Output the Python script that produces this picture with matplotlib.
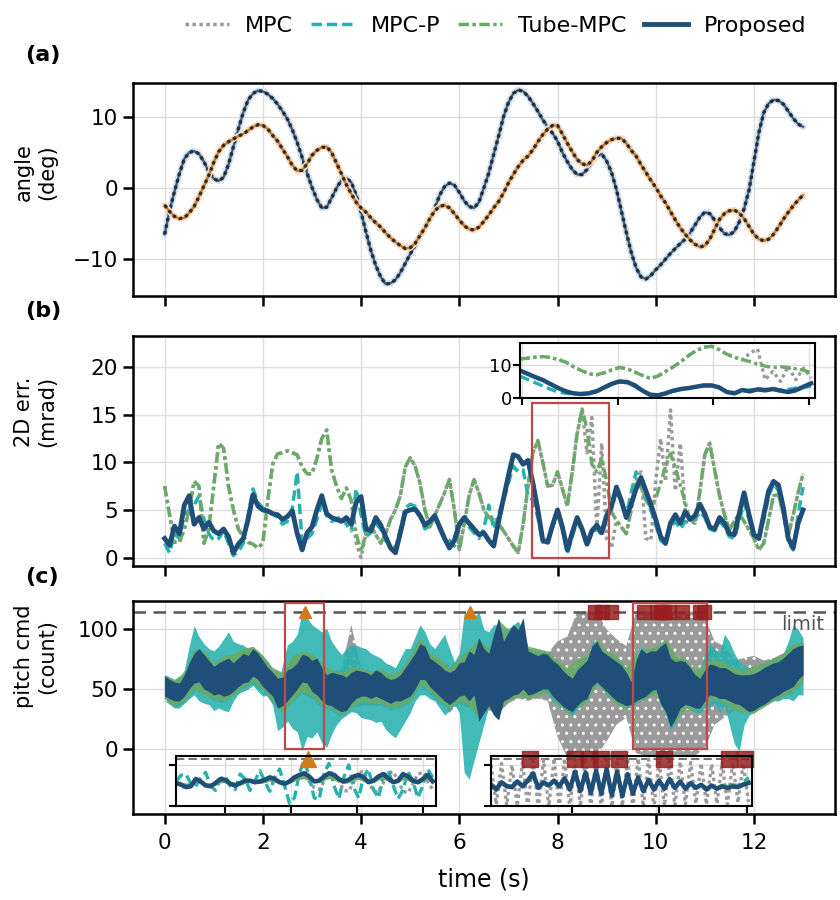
import numpy as np
import matplotlib
matplotlib.use('Agg')
import matplotlib.pyplot as plt
from matplotlib.patches import Rectangle
from matplotlib.lines import Line2D

# ---------------- data ----------------
# (a) tracked angles, sampled every 0.1 s from 0 to 13 s
angle_1 = [-6.5, -3.2, -0.5, 2.0, 4.1, 5.0, 5.2, 4.8, 3.7, 2.3,
           1.3, 1.0, 1.5, 3.3, 5.8, 8.3, 10.6, 12.4, 13.3, 13.7,
           13.6, 13.2, 12.6, 11.8, 10.8, 9.7, 8.2, 6.4, 4.3, 2.1,
           0.1, -1.6, -2.8, -2.7, -1.4, 0.0, 1.1, 1.4, 0.8, -1.0,
           -3.4, -6.2, -8.8, -10.9, -12.5, -13.5, -13.4, -12.9, -11.9, -10.6,
           -9.3, -8.1, -6.8, -5.5, -4.4, -2.9, -1.0, 0.2, 0.7, 0.4,
           -0.6, -1.8, -2.6, -2.8, -2.0, 0.0, 2.1, 4.7, 7.3, 10.0,
           12.0, 13.3, 13.8, 13.6, 12.9, 11.9, 10.8, 9.6, 8.6, 7.7,
           6.6, 5.0, 3.7, 2.6, 1.9, 1.9, 2.6, 3.7, 4.6, 4.8,
           3.8, 2.2, -0.2, -3.2, -6.2, -9.0, -11.2, -12.5, -12.8, -12.3,
           -11.5, -10.8, -10.0, -9.2, -8.5, -7.8, -7.2, -6.3, -5.2, -4.1,
           -3.4, -3.6, -4.5, -5.6, -6.4, -6.6, -6.1, -4.8, -2.9, -0.3,
           3.7, 7.8, 10.6, 11.9, 12.4, 12.3, 11.8, 10.8, 9.8, 9.0,
           8.6]
angle_2 = [-2.4, -3.3, -4.0, -4.3, -4.2, -3.5, -2.6, -1.2, 0.3, 1.8,
           3.6, 5.1, 6.0, 6.5, 6.9, 7.3, 7.6, 8.1, 8.6, 8.9,
           8.8, 8.3, 7.4, 6.6, 5.5, 4.4, 3.2, 2.4, 2.5, 3.4,
           4.6, 5.3, 5.7, 5.8, 5.0, 3.5, 2.0, 0.5, -0.8, -2.0,
           -2.8, -3.4, -4.2, -4.9, -5.5, -6.3, -7.0, -7.6, -8.1, -8.5,
           -8.4, -7.8, -6.7, -5.6, -4.3, -3.2, -2.6, -2.4, -2.8, -3.6,
           -4.5, -5.3, -5.8, -5.9, -5.5, -4.7, -3.8, -2.8, -1.9, -0.7,
           0.7, 1.9, 3.0, 3.9, 4.5, 5.4, 6.5, 7.5, 8.3, 8.8,
           8.8, 7.6, 6.3, 5.1, 4.0, 3.4, 3.2, 3.8, 5.0, 5.8,
           6.4, 6.8, 7.0, 7.0, 6.3, 5.3, 4.5, 3.3, 2.2, 1.1,
           0.1, -1.1, -2.1, -3.3, -4.5, -5.6, -6.5, -7.3, -7.9, -8.3,
           -8.1, -7.2, -5.8, -4.4, -3.6, -3.2, -3.1, -3.5, -4.3, -5.4,
           -6.5, -7.2, -7.4, -7.2, -6.5, -5.5, -4.4, -3.4, -2.5, -1.7,
           -1.0]

# (b) 2D error (mrad), every 0.1 s
err_mpc = [7.5, 4.5, 1.6, 1.6, 3.0, 5.0, 8.0, 7.5, 1.5, 3.0,
           7.5, 12.0, 11.5, 7.5, 5.0, 3.0, 2.2, 1.6, 1.4, 1.0,
           1.5, 6.0, 9.8, 10.9, 11.0, 11.2, 11.0, 10.8, 9.5, 8.8,
           8.8, 10.4, 12.5, 13.4, 9.2, 7.5, 6.2, 7.3, 6.0, 1.5,
           0.0, 2.5, 3.3, 2.4, 1.5, 2.5, 4.0, 5.0, 6.5, 9.5,
           10.5, 9.6, 7.8, 5.0, 3.2, 4.4, 5.6, 6.8, 8.2, 5.0,
           0.8, 3.5, 6.5, 8.2, 6.8, 5.0, 4.2, 4.0, 3.6, 2.8,
           2.0, 1.2, 0.5, 3.5, 7.5, 11.0, 12.3, 10.0, 7.5, 7.6,
           9.0, 7.2, 5.4, 9.0, 13.0, 15.6, 11.0, 14.7, 3.0, 12.0,
           2.0, 1.0, 3.9, 3.2, 2.5, 5.0, 8.1, 9.0, 2.0, 1.8,
           8.0, 12.5, 8.0, 15.5, 7.0, 12.0, 5.0, 4.0, 3.6, 7.0,
           10.8, 12.0, 9.2, 6.5, 4.5, 2.9, 3.8, 4.6, 3.8, 2.9,
           2.0, 0.8, 1.5, 4.0, 6.5, 6.6, 4.5, 2.3, 4.5, 6.8,
           8.8]
err_mpcp = [1.5, 0.5, 2.5, 2.0, 4.5, 5.0, 5.5, 6.5, 4.0, 2.5,
            1.8, 2.0, 2.8, 1.5, 0.2, 0.6, 1.5, 4.5, 7.2, 5.8,
            5.2, 5.0, 4.6, 4.2, 3.5, 3.8, 5.2, 9.0, 1.5, 2.0,
            2.5, 4.0, 5.8, 4.4, 3.8, 4.0, 4.4, 3.5, 2.8, 7.2,
            4.5, 2.2, 2.6, 3.6, 3.0, 1.8, 1.2, 1.0, 3.0, 5.2,
            5.6, 5.4, 4.4, 3.0, 3.4, 4.2, 3.0, 2.2, 1.8, 1.2,
            3.0, 4.0, 3.2, 2.6, 2.0, 3.0, 5.5, 3.0, 4.5, 6.0,
            7.8, 9.6, 9.0, 9.2, 6.5, 6.0, 4.2, 1.6, 1.8, 3.2,
            4.6, 3.0, 0.4, 2.2, 3.8, 2.8, 1.2, 2.6, 3.0, 2.4,
            4.0, 5.0, 7.0, 5.8, 4.4, 6.8, 9.0, 8.0, 6.2, 5.0,
            3.4, 1.8, 1.4, 3.2, 3.8, 3.0, 3.8, 3.6, 4.0, 4.8,
            4.2, 3.0, 2.8, 3.8, 3.2, 2.2, 2.0, 3.8, 5.8, 4.0,
            2.2, 1.8, 4.0, 6.4, 7.8, 7.0, 4.6, 1.6, 0.8, 4.5,
            7.4]
err_tube = [7.5, 4.5, 1.6, 1.6, 3.0, 5.0, 8.0, 7.5, 1.5, 3.0,
            7.5, 12.0, 11.5, 7.5, 5.0, 3.0, 2.2, 1.6, 1.4, 1.0,
            1.5, 6.0, 9.8, 10.9, 11.0, 11.2, 11.0, 10.8, 9.5, 8.8,
            8.8, 10.4, 12.5, 13.4, 9.2, 7.5, 6.2, 7.3, 6.0, 2.5,
            0.6, 2.5, 3.3, 2.4, 1.5, 2.5, 4.0, 5.0, 6.5, 9.5,
            10.5, 9.6, 7.8, 5.0, 3.2, 4.4, 5.6, 6.8, 8.2, 5.0,
            0.8, 3.5, 6.5, 8.2, 6.8, 5.0, 4.2, 4.0, 3.6, 2.8,
            2.0, 1.2, 0.5, 3.5, 7.5, 11.0, 12.3, 10.0, 7.5, 7.6,
            9.0, 7.2, 5.4, 9.0, 13.0, 15.6, 13.5, 9.8, 9.0, 10.4,
            8.0, 4.8, 3.9, 3.2, 2.5, 5.0, 8.1, 7.4, 6.0, 5.3,
            6.2, 7.8, 9.6, 10.9, 9.4, 7.6, 5.8, 3.8, 3.6, 7.0,
            10.8, 12.0, 9.2, 6.5, 4.5, 2.9, 3.8, 4.6, 3.8, 2.9,
            2.0, 0.8, 1.5, 4.0, 6.5, 6.6, 4.5, 2.3, 4.5, 6.8,
            8.8]
err_prop = [2.0, 1.3, 3.3, 2.5, 5.5, 6.5, 3.5, 4.2, 3.0, 3.7,
            2.8, 2.5, 3.0, 2.2, 0.5, 1.4, 2.0, 4.0, 6.6, 5.4,
            5.0, 4.9, 4.6, 4.5, 4.0, 4.3, 4.9, 2.5, 0.8, 2.6,
            3.2, 5.0, 6.5, 4.6, 4.2, 4.0, 3.8, 4.2, 3.5, 5.8,
            6.4, 3.0, 2.8, 4.2, 3.4, 2.2, 1.0, 0.5, 2.6, 4.8,
            5.0, 5.1, 4.4, 3.4, 3.8, 4.4, 3.2, 2.0, 1.0, 1.8,
            3.5, 4.2, 3.6, 3.0, 2.4, 2.6, 1.8, 1.2, 3.8, 6.2,
            8.6, 10.8, 10.6, 9.8, 10.2, 7.8, 5.0, 1.8, 1.6, 3.4,
            5.0, 3.2, 0.8, 2.6, 4.2, 3.0, 1.4, 2.8, 3.4, 2.6,
            4.4, 5.4, 7.4, 6.0, 4.2, 5.6, 7.2, 8.4, 7.0, 5.6,
            4.0, 2.2, 1.5, 3.6, 4.5, 3.6, 4.8, 4.0, 4.4, 5.6,
            4.6, 3.2, 3.0, 4.2, 3.6, 2.5, 2.4, 4.6, 6.8, 4.5,
            2.4, 2.0, 4.5, 7.0, 8.0, 7.6, 5.2, 2.0, 1.0, 3.6,
            5.0]

# (b) inset, 7.49 s .. 9.01 s every 0.04 s
bi_mpc = [11.8, 12.0, 12.3, 12.5, 12.2, 11.6, 10.8, 9.4, 8.3, 7.3,
          7.0, 7.6, 8.5, 9.2, 8.8, 7.8, 6.8, 5.9, 6.6, 8.0,
          9.4, 11.0, 12.8, 14.3, 15.3, 15.6, 14.6, 13.2, 12.3, 11.5,
          13.5, 14.8, 5.5, 8.0, 5.0, 9.6, 5.5, 9.0, 6.0]
bi_mpcp = [6.6, 5.6, 4.6, 3.6, 2.6, 1.8, 1.4, 1.2, 1.3, 1.6,
           2.2, 3.0, 4.1, 4.8, 4.6, 3.5, 2.0, 0.9, 0.8, 1.2,
           2.0, 2.6, 3.0, 3.3, 3.6, 3.6, 3.0, 1.8, 1.6, 2.2,
           2.4, 2.8, 2.6, 2.8, 2.4, 2.6, 3.0, 3.2, 3.6]
bi_tube = [11.8, 12.0, 12.3, 12.5, 12.2, 11.6, 10.8, 9.4, 8.3, 7.3,
           7.0, 7.6, 8.5, 9.2, 8.8, 7.8, 6.8, 5.9, 6.6, 8.0,
           9.4, 11.0, 12.8, 14.3, 15.3, 15.6, 14.6, 13.2, 12.3, 11.6,
           11.0, 10.2, 9.6, 9.2, 9.4, 9.2, 8.8, 8.4, 7.6]
bi_prop = [8.3, 7.3, 6.3, 5.4, 4.2, 3.0, 2.0, 1.4, 1.2, 1.4,
           2.0, 3.2, 4.3, 5.0, 4.8, 3.8, 2.2, 1.0, 0.8, 1.4,
           2.2, 2.7, 3.0, 3.4, 3.8, 3.8, 3.2, 1.8, 1.4, 2.4,
           2.0, 2.6, 2.3, 2.7, 2.2, 1.8, 2.3, 3.4, 4.4]

# (c) pitch command envelopes (count)
prop_hi = [61, 58, 56, 55, 62, 72, 80, 84, 79, 74,
           69, 72, 74, 76, 72, 76, 80, 78, 84, 80,
           74, 68, 64, 59, 60, 66, 68, 72, 79, 78,
           74, 76, 68, 62, 64, 63, 62, 60, 64, 66,
           65, 64, 62, 66, 64, 60, 58, 59, 62, 68,
           74, 80, 88, 86, 76, 73, 70, 66, 64, 66,
           72, 73, 82, 79, 93, 84, 80, 96, 110, 90,
           98, 104, 100, 110, 82, 80, 78, 80, 79, 74,
           71, 66, 62, 59, 66, 70, 74, 86, 90, 82,
           79, 76, 73, 70, 64, 56, 74, 84, 80, 82,
           82, 86, 89, 76, 73, 74, 73, 68, 62, 59,
           66, 71, 70, 68, 68, 66, 63, 62, 62, 62,
           63, 65, 68, 70, 72, 73, 76, 80, 84, 86,
           87]
prop_lo = [44, 42, 40, 40, 44, 50, 55, 56, 50, 48,
           45, 46, 44, 45, 48, 52, 55, 56, 61, 58,
           52, 48, 44, 34, 36, 40, 45, 50, 56, 55,
           48, 45, 40, 37, 36, 33, 31, 32, 38, 42,
           44, 44, 42, 44, 42, 40, 38, 40, 40, 42,
           44, 50, 58, 58, 52, 48, 44, 40, 37, 40,
           44, 45, 40, 45, 23, 30, 36, 28, 24, 40,
           42, 45, 46, 50, 45, 46, 48, 50, 50, 44,
           40, 36, 33, 31, 36, 40, 42, 52, 56, 52,
           48, 44, 40, 38, 36, 37, 40, 42, 44, 48,
           50, 38, 31, 18, 25, 34, 37, 36, 34, 34,
           40, 45, 44, 42, 42, 40, 38, 37, 34, 31,
           32, 35, 37, 40, 43, 45, 48, 50, 52, 58,
           62]
mpcp_hi = [62, 60, 58, 59, 66, 86, 103, 94, 88, 84,
           82, 86, 92, 98, 90, 88, 87, 84, 84, 82,
           78, 73, 66, 53, 70, 87, 90, 96, 115, 110,
           104, 101, 98, 101, 90, 84, 79, 84, 87, 87,
           85, 84, 80, 78, 76, 72, 70, 68, 76, 84,
           84, 94, 104, 98, 88, 84, 90, 96, 84, 73,
           80, 114, 114, 110, 115, 100, 98, 104, 104, 101,
           101, 104, 107, 100, 84, 82, 80, 82, 80, 76,
           73, 68, 64, 61, 68, 72, 76, 88, 92, 84,
           80, 78, 75, 72, 66, 58, 76, 86, 82, 84,
           84, 88, 90, 78, 75, 76, 75, 70, 64, 66,
           80, 88, 84, 80, 96, 90, 80, 73, 70, 68,
           66, 70, 72, 74, 76, 76, 80, 90, 104, 100,
           93]
mpcp_lo = [42, 38, 34, 34, 38, 42, 45, 40, 38, 37,
           32, 34, 32, 31, 40, 46, 48, 50, 53, 48,
           44, 45, 36, 15, 18, 23, 17, 14, -2, 10,
           9, 14, 5, 1, 12, 20, 25, 28, 31, 30,
           26, 25, 24, 22, 23, 16, 12, 9, 16, 23,
           30, 40, 45, 45, 42, 40, 34, 28, 32, 37,
           30, -20, -26, -10, 5, 20, 35, 45, 40, 37,
           40, 46, 48, 46, 44, 45, 45, 47, 46, 40,
           37, 34, 30, 28, 33, 37, 40, 50, 54, 50,
           45, 42, 38, 35, 34, 35, 38, 40, 42, 45,
           48, 36, 28, 16, 22, 32, 35, 33, 30, 30,
           34, 36, 38, 30, 37, 20, 4, -2, 20, 28,
           30, 34, 36, 38, 40, 40, 42, 42, 40, 45,
           45]
# every 0.2 s
tube_hi = [62, 58, 64, 84, 82, 72, 78, 80, 84, 86,
           78, 68, 64, 78, 82, 80, 72, 66, 64, 68,
           68, 65, 67, 62, 66, 78, 94, 80, 76, 68,
           76, 84, 92, 84, 108, 100, 104, 86, 84, 82,
           74, 68, 76, 78, 92, 82, 78, 68, 80, 84,
           86, 92, 78, 76, 66, 72, 76, 72, 68, 66,
           70, 72, 76, 80, 88, 90]
tube_lo = [42, 36, 40, 50, 46, 42, 40, 45, 52, 56,
           50, 40, 30, 40, 48, 44, 36, 34, 28, 34,
           40, 38, 38, 34, 36, 40, 54, 48, 40, 34,
           40, 36, 26, 34, 30, 40, 44, 42, 44, 48,
           38, 30, 34, 40, 54, 46, 38, 33, 38, 42,
           46, 28, 22, 34, 32, 36, 42, 38, 32, 30,
           30, 35, 40, 44, 48, 56]
mpc_hi = [60, 56, 62, 82, 80, 70, 76, 78, 82, 84,
          76, 66, 62, 76, 80, 78, 70, 64, 66, 104,
          68, 64, 66, 62, 64, 76, 92, 78, 74, 70,
          74, 82, 90, 82, 100, 98, 100, 84, 82, 80,
          90, 94, 115, 115, 115, 100, 92, 86, 115, 115,
          115, 115, 115, 115, 115, 110, 90, 86, 74, 76,
          78, 74, 76, 80, 86, 88]
mpc_lo = [40, 34, 38, 48, 46, 40, 38, 44, 50, 54,
          48, 38, 30, 38, 46, 42, 34, 32, 26, 34,
          36, 36, 36, 32, 34, 38, 52, 46, 38, 30,
          38, 34, 26, 32, 30, 38, 42, 40, 42, 40,
          10, -8, -2, -2, -6, 6, 20, 26, -4, -6,
          -6, -6, -6, -6, -6, 0, 20, 26, 32, 36,
          34, 36, 40, 44, 46, 54]

# (c) left inset, 2.45 s .. 3.23 s every 0.015 s
cl_mpc = [58, 54, 50, 52, 60, 58, 52, 50, 54, 60,
          60, 56, 52, 54, 58, 60, 58, 58, 60, 64,
          62, 58, 56, 58, 64, 68, 72, 60, 45, 40,
          60, 80, 82, 60, 38, 36, 58, 82, 84, 60,
          36, 34, 56, 80, 84, 62, 36, 32, 54, 78,
          82, 60, 40]
cl_mpcp = [60, 75, 78, 55, 48, 70, 82, 50, 38, 65,
           74, 48, 40, 78, 66, 38, 62, 86, 60, 36,
           70, 90, 50, 6, 20, 80, 112, 70, 20, 16,
           80, 104, 50, 18, 70, 100, 45, 20, 72, 90,
           40, 20, 70, 88, 50, 18, 40, 84, 60, 20,
           50, 90, 70]
cl_tube = [58, 54, 50, 52, 60, 58, 52, 50, 54, 60,
           60, 56, 52, 54, 58, 60, 58, 58, 60, 64,
           62, 58, 56, 58, 64, 68, 70, 66, 60, 60,
           66, 70, 68, 62, 58, 60, 66, 68, 64, 58,
           60, 66, 70, 64, 58, 60, 68, 66, 60, 58,
           62, 68, 62]
cl_prop = [56, 52, 46, 48, 66, 60, 50, 48, 56, 66,
           64, 54, 50, 56, 62, 62, 58, 60, 64, 70,
           66, 58, 54, 60, 70, 76, 80, 72, 60, 62,
           72, 80, 76, 66, 60, 64, 72, 76, 70, 58,
           62, 72, 78, 68, 58, 62, 78, 72, 62, 58,
           66, 76, 60]

# (c) right inset, 9.54 s .. 11.01 s every 0.03 s
cr_mpc = [100, 4, 104, 2, 100, 0, 108, -2, 110, -4,
          112, -2, 116, -4, 116, -4, 114, -2, 116, -4,
          116, -4, 114, -2, 112, 0, 116, -4, 116, -2,
          114, -4, 112, 0, 110, 2, 108, 4, 106, 6,
          104, 4, 102, 6, 104, 4, 106, 8, 104, 10]
cr_mpcp = [50, 42, 56, 50, 46, 58, 50, 60, 76, 46,
           56, 50, 60, 48, 66, 42, 80, 38, 80, 34,
           84, 32, 86, 28, 80, 28, 76, 32, 68, 38,
           62, 42, 60, 44, 64, 46, 58, 44, 54, 46,
           52, 42, 50, 44, 50, 46, 52, 50, 58, 70]
cr_tube = [54, 44, 56, 50, 48, 58, 50, 60, 74, 48,
           56, 52, 60, 50, 64, 44, 78, 40, 76, 38,
           80, 36, 82, 32, 78, 32, 72, 36, 66, 40,
           62, 44, 60, 46, 62, 46, 58, 44, 54, 46,
           52, 44, 50, 44, 50, 46, 50, 48, 54, 60]
cr_prop = [52, 40, 58, 48, 46, 60, 48, 62, 80, 44,
           58, 50, 62, 48, 68, 40, 84, 36, 82, 32,
           86, 30, 90, 26, 84, 24, 78, 30, 70, 36,
           64, 40, 62, 42, 66, 44, 60, 42, 56, 44,
           52, 40, 50, 42, 48, 44, 48, 46, 52, 56]

cmd_limit = 115
warn_times = [2.85, 6.22]                       # MPC-P hits the limit
sat_times = [8.76, 8.91, 9.08, 9.76, 10.02, 10.10, 10.17,
             10.27, 10.53, 10.90, 10.99]        # MPC saturates

t = np.arange(len(angle_1)) / 10.0
t2 = np.arange(len(tube_hi)) / 5.0
t_bi = 7.49 + 0.04 * np.arange(len(bi_prop))
t_cl = 2.45 + 0.015 * np.arange(len(cl_prop))
t_cr = 9.54 + 0.03 * np.arange(len(cr_prop))

# ---------------- style ----------------
C_MPC = '#9a9a9a'
C_MPCP = '#27b1ae'
C_TUBE = '#6aaa68'
C_PROP = '#1f4e79'
C_BOX = '#c0474a'
LS_MPC = (0, (1, 1))
LS_MPCP = (0, (3, 1.4))
LS_TUBE = (0, (3, 1, 1, 1))

plt.rcParams['font.family'] = 'DejaVu Sans'


def style(ax, size=15.5, tl=7, tw=1.8, sw=1.8):
    for s in ax.spines.values():
        s.set_linewidth(sw)
    ax.tick_params(direction='out', length=tl, width=tw, labelsize=size)
    ax.grid(True, color='#dedede', lw=1)
    ax.set_axisbelow(True)


fig = plt.figure(figsize=(8.4, 9), dpi=100)
ax_a = fig.add_axes([0.158, 0.671, 0.836, 0.237])
ax_b = fig.add_axes([0.158, 0.371, 0.836, 0.256])
ax_c = fig.add_axes([0.158, 0.0956, 0.836, 0.2367])

# ---- (a)
for vals, dark, light in [(angle_1, '#2b5d8c', '#cfdfee'),
                          (angle_2, '#c97521', '#f5dcc0')]:
    ax_a.plot(t, vals, color=light, lw=4.5, solid_capstyle='round')
    ax_a.plot(t, vals, color=dark, lw=1.6)
    ax_a.plot(t, vals, color='#2a2a2a', lw=2.4, ls=(0, (1, 1)))
ax_a.set_ylim(-15.2, 14.8)
ax_a.set_yticks([-10, 0, 10])
ax_a.set_ylabel('angle\n(deg)', fontsize=15)
ax_a.yaxis.set_label_coords(-0.108, 0.58)

# ---- (b)
ax_b.plot(t, err_mpc, color=C_MPC, lw=2.5, ls=LS_MPC)
ax_b.plot(t, err_mpcp, color=C_MPCP, lw=2.5, ls=LS_MPCP)
ax_b.plot(t, err_tube, color=C_TUBE, lw=2.5, ls=LS_TUBE)
ax_b.plot(t, err_prop, color=C_PROP, lw=3.5)
ax_b.add_patch(Rectangle((7.49, 0), 1.55, 16.2, fill=False, ec=C_BOX, lw=1.6, zorder=6))
ax_b.set_ylim(-0.9, 23.3)
ax_b.set_yticks([0, 5, 10, 15, 20])
ax_b.set_ylabel('2D err.\n(mrad)', fontsize=15)
ax_b.yaxis.set_label_coords(-0.108, 0.67)

# ---- (c)
ax_c.fill_between(t2, mpc_lo, mpc_hi, facecolor=C_MPC, edgecolor='white',
                  hatch='..', lw=0)
ax_c.fill_between(t, mpcp_lo, mpcp_hi, color=C_MPCP, lw=0, alpha=0.88)
ax_c.fill_between(t2, tube_lo, tube_hi, color=C_TUBE, lw=0, alpha=0.9)
ax_c.fill_between(t, prop_lo, prop_hi, color=C_PROP, lw=0)
ax_c.axhline(cmd_limit, color='#555555', ls=(0, (5, 3)), lw=1.8)
ax_c.text(13.42, cmd_limit - 3, 'limit', ha='right', va='top', fontsize=14, color='#555555')
ax_c.plot(warn_times, [cmd_limit] * len(warn_times), '^', color='#d07a1c', ms=9, zorder=7)
ax_c.plot(sat_times, [cmd_limit] * len(sat_times), 's', color='#962021', alpha=0.85, ms=10, zorder=7)
ax_c.add_patch(Rectangle((2.46, 0), 0.78, 122, fill=False, ec=C_BOX, lw=1.6, zorder=6))
ax_c.add_patch(Rectangle((9.54, 0), 1.5, 122, fill=False, ec=C_BOX, lw=1.6, zorder=6))
ax_c.set_ylim(-55, 124)
ax_c.set_yticks([0, 50, 100])
ax_c.set_ylabel('pitch cmd\n(count)', fontsize=15)
ax_c.yaxis.set_label_coords(-0.108, 0.74)
ax_c.set_xlabel('time (s)', fontsize=17, labelpad=10)

for ax in (ax_a, ax_b, ax_c):
    style(ax)
    ax.set_xlim(-0.65, 13.65)
    ax.set_xticks([0, 2, 4, 6, 8, 10, 12])
ax_a.tick_params(labelbottom=False)
ax_b.tick_params(labelbottom=False)
ax_c.tick_params(axis='x', pad=7)

# ---- (b) inset
axi = fig.add_axes([0.619, 0.5578, 0.3512, 0.0611], zorder=5)
axi.plot(t_bi, bi_mpc, color=C_MPC, lw=2.4, ls=LS_MPC)
axi.plot(t_bi, bi_mpcp, color=C_MPCP, lw=2.4, ls=LS_MPCP)
axi.plot(t_bi, bi_tube, color=C_TUBE, lw=2.4, ls=LS_TUBE)
axi.plot(t_bi, bi_prop, color=C_PROP, lw=3.2)
axi.set_xlim(7.49, 9.03)
axi.set_ylim(0, 16.6)
axi.set_xticks([7.5, 8.0, 8.5, 9.0])
axi.set_yticks([0, 10])
style(axi, size=13, tl=5, tw=1.5, sw=1.5)
axi.tick_params(labelbottom=False, pad=1)

# ---- (c) insets
for pos, tt, mpc, mpcp, tube, prop, xl, xt in [
        ([0.2095, 0.1044, 0.3095, 0.0556], t_cl, cl_mpc, cl_mpcp, cl_tube, cl_prop,
         (2.45, 3.24), [2.6, 2.8, 3.0, 3.2]),
        ([0.5845, 0.1044, 0.3107, 0.0556], t_cr, cr_mpc, cr_mpcp, cr_tube, cr_prop,
         (9.54, 11.03), [10.0, 10.5, 11.0])]:
    axx = fig.add_axes(pos, zorder=5)
    axx.axhline(cmd_limit, color='#777777', ls=(0, (4, 2)), lw=1.5)
    axx.plot(tt, mpc, color=C_MPC, lw=2.4, ls=LS_MPC)
    axx.plot(tt, mpcp, color=C_MPCP, lw=2.4, ls=LS_MPCP)
    axx.plot(tt, tube, color=C_TUBE, lw=2.6)
    axx.plot(tt, prop, color=C_PROP, lw=3.2)
    wt = [w for w in warn_times if xl[0] <= w <= xl[1]]
    st = [s for s in sat_times if xl[0] <= s <= xl[1]]
    axx.plot(wt, [cmd_limit] * len(wt), '^', color='#d07a1c', ms=11, clip_on=False)
    axx.plot(st, [cmd_limit] * len(st), 's', color='#962021', alpha=0.85, ms=11, clip_on=False)
    axx.set_xlim(*xl)
    axx.set_ylim(0, 122)
    axx.set_xticks(xt)
    axx.set_yticks([0, 100])
    style(axx, size=10, tl=5, tw=1.5, sw=1.5)
    axx.tick_params(labelbottom=False, labelleft=False)

# ---- panel labels and legend
for y, lab in [(0.939, '(a)'), (0.654, '(b)'), (0.359, '(c)')]:
    fig.text(0.03, y, lab, fontsize=16, fontweight='bold', va='center')

handles = [Line2D([], [], color=C_MPC, lw=2.5, ls=LS_MPC),
           Line2D([], [], color=C_MPCP, lw=2.5, ls=LS_MPCP),
           Line2D([], [], color=C_TUBE, lw=2.5, ls=LS_TUBE),
           Line2D([], [], color=C_PROP, lw=3.5)]
fig.legend(handles, ['MPC', 'MPC-P', 'Tube-MPC', 'Proposed'], loc='center',
           bbox_to_anchor=(0.59, 0.971), ncol=4, frameon=False, fontsize=16,
           handlelength=2.0, columnspacing=0.8, handletextpad=0.7)

fig.savefig('out.png', dpi=100)
